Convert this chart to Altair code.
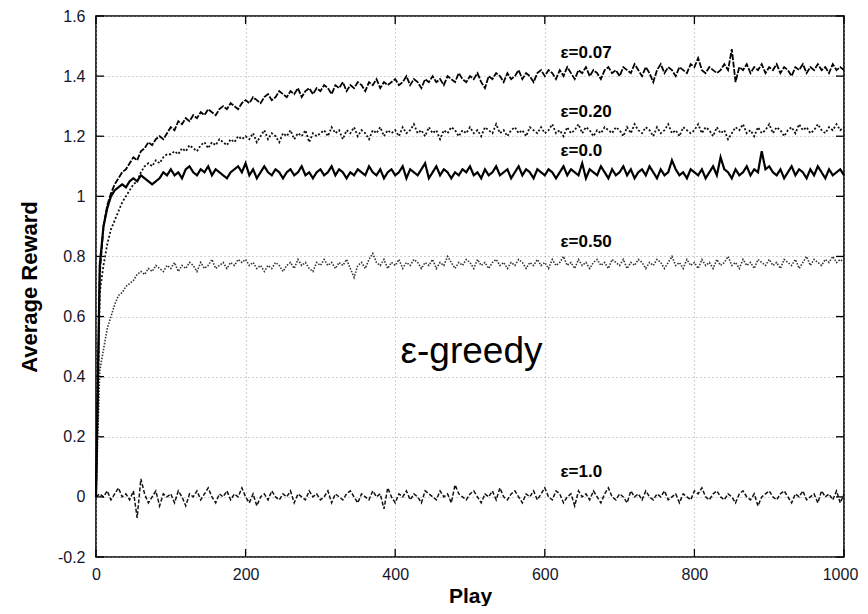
import altair as alt
import pandas as pd

# ---------------- data (every 5 plays) ----------------
plays = list(range(0, 1001, 5))

eps_000 = [
    0.00, 0.77, 0.90, 0.96, 1.00, 1.02, 1.03, 1.04, 1.03, 1.05, 1.06, 1.05, 1.07, 1.06, 1.05, 1.04, 1.05, 1.06, 1.08, 1.07,
    1.09, 1.07, 1.08, 1.06, 1.09, 1.10, 1.08, 1.07, 1.09, 1.08, 1.10, 1.07, 1.09, 1.08, 1.07, 1.06, 1.08, 1.09, 1.10, 1.08,
    1.11, 1.07, 1.09, 1.06, 1.08, 1.10, 1.08, 1.07, 1.09, 1.08, 1.06, 1.08, 1.09, 1.07, 1.08, 1.10, 1.07, 1.08, 1.06, 1.08,
    1.09, 1.07, 1.08, 1.10, 1.07, 1.09, 1.08, 1.06, 1.08, 1.07, 1.09, 1.08, 1.07, 1.10, 1.08, 1.07, 1.09, 1.06, 1.08, 1.09,
    1.07, 1.08, 1.10, 1.06, 1.09, 1.08, 1.07, 1.09, 1.11, 1.06, 1.08, 1.10, 1.07, 1.09, 1.08, 1.06, 1.08, 1.07, 1.09, 1.08,
    1.10, 1.07, 1.08, 1.06, 1.09, 1.07, 1.08, 1.10, 1.07, 1.08, 1.09, 1.06, 1.08, 1.10, 1.07, 1.09, 1.08, 1.06, 1.09, 1.08,
    1.07, 1.09, 1.08, 1.06, 1.08, 1.10, 1.07, 1.09, 1.08, 1.07, 1.11, 1.06, 1.09, 1.08, 1.07, 1.10, 1.08, 1.06, 1.09, 1.07,
    1.08, 1.10, 1.07, 1.09, 1.06, 1.08, 1.09, 1.07, 1.10, 1.08, 1.06, 1.09, 1.07, 1.08, 1.12, 1.09, 1.07, 1.08, 1.06, 1.09,
    1.08, 1.07, 1.09, 1.06, 1.08, 1.10, 1.07, 1.13, 1.09, 1.08, 1.06, 1.09, 1.07, 1.08, 1.10, 1.07, 1.09, 1.08, 1.15, 1.09,
    1.10, 1.08, 1.07, 1.09, 1.06, 1.08, 1.10, 1.07, 1.09, 1.08, 1.06, 1.09, 1.07, 1.10, 1.08, 1.06, 1.09, 1.07, 1.08, 1.09,
    1.07,
]

eps_007 = [
    0.00, 0.74, 0.90, 0.97, 1.01, 1.04, 1.06, 1.08, 1.09, 1.11, 1.13, 1.12, 1.15, 1.16, 1.18, 1.17, 1.19, 1.20, 1.19, 1.21,
    1.23, 1.22, 1.25, 1.24, 1.26, 1.25, 1.27, 1.26, 1.28, 1.27, 1.29, 1.28, 1.27, 1.29, 1.30, 1.29, 1.31, 1.30, 1.29, 1.31,
    1.32, 1.31, 1.33, 1.32, 1.31, 1.33, 1.34, 1.32, 1.33, 1.35, 1.34, 1.33, 1.35, 1.34, 1.36, 1.33, 1.35, 1.36, 1.34, 1.36,
    1.35, 1.37, 1.36, 1.34, 1.37, 1.36, 1.38, 1.35, 1.37, 1.36, 1.38, 1.37, 1.35, 1.38, 1.37, 1.39, 1.36, 1.38, 1.37, 1.38,
    1.39, 1.37, 1.38, 1.40, 1.37, 1.39, 1.38, 1.36, 1.39, 1.38, 1.40, 1.38, 1.39, 1.37, 1.40, 1.39, 1.38, 1.41, 1.39, 1.38,
    1.40, 1.39, 1.41, 1.38, 1.36, 1.40, 1.39, 1.41, 1.40, 1.38, 1.41, 1.39, 1.40, 1.42, 1.39, 1.41, 1.40, 1.38, 1.41, 1.42,
    1.40, 1.42, 1.41, 1.39, 1.42, 1.40, 1.43, 1.41, 1.39, 1.42, 1.41, 1.43, 1.40, 1.42, 1.41, 1.39, 1.42, 1.43, 1.41, 1.42,
    1.40, 1.43, 1.42, 1.41, 1.44, 1.42, 1.40, 1.43, 1.41, 1.38, 1.42, 1.44, 1.41, 1.43, 1.42, 1.40, 1.43, 1.42, 1.41, 1.44,
    1.43, 1.46, 1.42, 1.41, 1.43, 1.42, 1.41, 1.42, 1.44, 1.42, 1.49, 1.38, 1.43, 1.42, 1.44, 1.41, 1.43, 1.42, 1.44, 1.41,
    1.43, 1.42, 1.44, 1.41, 1.43, 1.42, 1.40, 1.43, 1.42, 1.44, 1.41, 1.43, 1.42, 1.44, 1.42, 1.43, 1.41, 1.44, 1.42, 1.43,
    1.42,
]

eps_020 = [
    0.00, 0.68, 0.77, 0.84, 0.89, 0.92, 0.95, 0.98, 1.00, 1.02, 1.04, 1.05, 1.08, 1.10, 1.11, 1.10, 1.12, 1.11, 1.13, 1.14,
    1.14, 1.15, 1.14, 1.16, 1.15, 1.17, 1.16, 1.15, 1.17, 1.18, 1.16, 1.18, 1.17, 1.19, 1.18, 1.17, 1.19, 1.18, 1.20, 1.19,
    1.20, 1.19, 1.21, 1.18, 1.20, 1.22, 1.19, 1.21, 1.20, 1.18, 1.21, 1.20, 1.22, 1.19, 1.21, 1.20, 1.22, 1.18, 1.21, 1.20,
    1.21, 1.22, 1.20, 1.23, 1.21, 1.22, 1.19, 1.22, 1.21, 1.23, 1.20, 1.22, 1.21, 1.19, 1.22, 1.21, 1.23, 1.20, 1.22, 1.21,
    1.22, 1.20, 1.23, 1.21, 1.22, 1.24, 1.21, 1.22, 1.20, 1.23, 1.21, 1.22, 1.19, 1.22, 1.21, 1.23, 1.22, 1.20, 1.22, 1.21,
    1.23, 1.21, 1.22, 1.20, 1.23, 1.22, 1.21, 1.24, 1.21, 1.22, 1.20, 1.22, 1.23, 1.21, 1.22, 1.20, 1.23, 1.22, 1.21, 1.23,
    1.21, 1.22, 1.24, 1.21, 1.22, 1.20, 1.23, 1.21, 1.22, 1.24, 1.21, 1.23, 1.22, 1.20, 1.22, 1.21, 1.23, 1.22, 1.21, 1.23,
    1.22, 1.20, 1.23, 1.21, 1.24, 1.22, 1.21, 1.23, 1.22, 1.20, 1.23, 1.21, 1.22, 1.24, 1.21, 1.22, 1.20, 1.23, 1.22, 1.21,
    1.22, 1.24, 1.21, 1.23, 1.22, 1.20, 1.23, 1.21, 1.22, 1.19, 1.21, 1.23, 1.22, 1.24, 1.21, 1.22, 1.20, 1.23, 1.21, 1.22,
    1.24, 1.21, 1.23, 1.22, 1.20, 1.22, 1.23, 1.21, 1.24, 1.22, 1.23, 1.21, 1.22, 1.24, 1.22, 1.21, 1.23, 1.22, 1.24, 1.22,
    1.23,
]

eps_050 = [
    0.00, 0.42, 0.49, 0.56, 0.60, 0.64, 0.67, 0.68, 0.70, 0.71, 0.72, 0.74, 0.75, 0.74, 0.76, 0.75, 0.77, 0.76, 0.75, 0.77,
    0.76, 0.78, 0.75, 0.77, 0.76, 0.78, 0.77, 0.75, 0.78, 0.76, 0.77, 0.79, 0.76, 0.77, 0.78, 0.76, 0.78, 0.77, 0.79, 0.78,
    0.79, 0.77, 0.78, 0.76, 0.77, 0.75, 0.77, 0.76, 0.78, 0.77, 0.75, 0.77, 0.78, 0.76, 0.79, 0.77, 0.78, 0.76, 0.75, 0.78,
    0.77, 0.79, 0.77, 0.78, 0.76, 0.78, 0.77, 0.79, 0.76, 0.73, 0.77, 0.78, 0.76, 0.79, 0.81, 0.78, 0.77, 0.79, 0.76, 0.78,
    0.77, 0.79, 0.76, 0.78, 0.77, 0.79, 0.78, 0.76, 0.78, 0.77, 0.79, 0.76, 0.78, 0.77, 0.80, 0.78, 0.76, 0.78, 0.77, 0.79,
    0.78, 0.76, 0.79, 0.77, 0.78, 0.76, 0.78, 0.79, 0.77, 0.78, 0.76, 0.78, 0.77, 0.79, 0.78, 0.76, 0.78, 0.77, 0.79, 0.77,
    0.78, 0.76, 0.79, 0.77, 0.78, 0.80, 0.77, 0.78, 0.76, 0.79, 0.77, 0.78, 0.76, 0.78, 0.79, 0.77, 0.78, 0.76, 0.79, 0.78,
    0.77, 0.79, 0.76, 0.78, 0.77, 0.79, 0.78, 0.76, 0.78, 0.77, 0.79, 0.78, 0.76, 0.78, 0.80, 0.77, 0.78, 0.76, 0.79, 0.77,
    0.78, 0.76, 0.79, 0.77, 0.78, 0.76, 0.79, 0.77, 0.78, 0.80, 0.77, 0.78, 0.76, 0.79, 0.77, 0.78, 0.76, 0.79, 0.78, 0.77,
    0.79, 0.77, 0.78, 0.76, 0.79, 0.78, 0.77, 0.79, 0.76, 0.78, 0.80, 0.77, 0.79, 0.78, 0.77, 0.79, 0.78, 0.80, 0.78, 0.79,
    0.78,
]

eps_100 = [
    0.00, 0.01, 0.00, 0.02, -0.01, 0.01, 0.03, 0.00, 0.01, -0.01, 0.02, -0.07, 0.06, 0.01, -0.02, 0.00, 0.02, -0.03, 0.01, 0.00,
    0.01, -0.02, 0.02, 0.00, -0.03, 0.01, 0.00, 0.02, -0.01, 0.01, 0.03, 0.00, -0.02, 0.01, 0.00, 0.02, -0.01, 0.01, 0.00, 0.03,
    0.00, -0.02, 0.01, -0.03, 0.00, 0.01, -0.01, 0.02, 0.00, -0.01, 0.01, 0.00, 0.02, -0.02, 0.01, 0.00, -0.01, 0.02, 0.00, 0.01,
    -0.01, 0.00, 0.02, -0.02, 0.01, 0.00, -0.01, 0.01, 0.02, 0.00, -0.02, 0.01, 0.00, -0.01, 0.02, 0.00, 0.01, -0.04, 0.03, 0.00,
    -0.02, 0.01, 0.00, 0.02, -0.01, 0.01, 0.00, -0.02, 0.02, 0.01, 0.00, -0.01, 0.02, 0.00, 0.01, -0.02, 0.04, 0.01, 0.00, -0.01,
    0.01, 0.02, 0.00, -0.02, 0.01, 0.00, 0.02, -0.01, 0.03, 0.00, -0.01, 0.01, 0.02, 0.00, -0.02, 0.01, 0.00, 0.02, -0.01, 0.01,
    0.03, 0.00, -0.01, 0.02, 0.01, -0.02, 0.00, 0.01, -0.03, 0.02, 0.00, 0.01, -0.01, 0.02, 0.00, -0.02, 0.01, 0.03, 0.00, -0.01,
    0.01, 0.00, -0.02, 0.02, 0.00, 0.01, -0.01, 0.02, 0.00, -0.01, 0.01, 0.00, 0.02, -0.01, 0.00, 0.01, -0.02, 0.01, 0.00, -0.01,
    0.02, 0.01, 0.03, 0.00, -0.01, 0.01, 0.02, 0.00, -0.01, 0.01, 0.00, -0.02, 0.01, 0.02, 0.00, -0.01, 0.01, -0.03, 0.00, 0.01,
    0.02, 0.00, -0.01, 0.01, 0.02, 0.00, -0.02, 0.01, 0.00, 0.02, -0.01, 0.00, 0.01, -0.02, 0.02, 0.00, 0.01, -0.01, 0.02, -0.02,
    0.01,
]

x_ticks = [0, 200, 400, 600, 800, 1000]
y_ticks = [-0.2, 0.0, 0.2, 0.4, 0.6, 0.8, 1.0, 1.2, 1.4, 1.6]

series_labels = ["ε=0.07", "ε=0.20", "ε=0.0", "ε=0.50", "ε=1.0"]
label_play = [621, 621, 621, 621, 621]
label_reward = [1.46, 1.263, 1.133, 0.833, 0.067]

# ---------------- chart ----------------
W, H = 748, 541
FONT = "Liberation Sans"

x_scale = alt.Scale(domain=[0, 1000], nice=False, zero=False)
y_scale = alt.Scale(domain=[-0.2, 1.6], nice=False, zero=False)

x_axis = alt.Axis(values=x_ticks, title="Play", format="d", grid=True, gridDash=[1, 3],
                  gridColor="#9a9a9a", gridWidth=0.9, ticks=False, domain=False, labelPadding=9,
                  labelFontSize=16, labelFont=FONT, labelColor="#15152a", titleFont=FONT,
                  titleFontSize=21, titleFontWeight="bold", titleColor="#000", titlePadding=3,
                  labelFlush=False,
                  labelOffset={"condition": {"test": "datum.value == 1000", "value": -4}, "value": 0})
y_axis = alt.Axis(values=y_ticks, title="Average Reward", grid=True, gridDash=[1, 3],
                  gridColor="#9a9a9a", gridWidth=0.9, ticks=False, domain=False, labelPadding=11,
                  labelFontSize=16, labelFont=FONT, labelColor="#15152a", titleFont=FONT,
                  titleFontSize=22, titleFontWeight="bold", titleColor="#000", titlePadding=16,
                  labelFlush=False,
                  labelExpr="replace(format(datum.value, '.1~f'), '\u2212', '-')")


def series_df(values):
    return pd.DataFrame({"play": plays, "reward": values})


def line_layer(values, dash, width, color):
    return alt.Chart(series_df(values)).mark_line(
        strokeDash=dash, strokeWidth=width, color=color, interpolate="linear"
    ).encode(
        x=alt.X("play:Q", scale=x_scale, axis=x_axis),
        y=alt.Y("reward:Q", scale=y_scale, axis=y_axis),
    )


l_100 = line_layer(eps_100, [4, 2], 1.5, "#111")
l_050 = line_layer(eps_050, [1.5, 1.5], 1.6, "#333")
l_020 = line_layer(eps_020, [2, 2], 1.8, "#111")
l_007 = line_layer(eps_007, [6, 1.5], 1.8, "#000")
l_000 = line_layer(eps_000, [1, 0], 2.2, "#000")

# inward ticks on all four sides (gnuplot style)
ytick_df = pd.DataFrame({"play": [0] * len(y_ticks), "reward": y_ticks})
xtick_df = pd.DataFrame({"play": x_ticks, "reward": [0.0] * len(x_ticks)})
tick_style = dict(color="#000", strokeWidth=1.3)
left_ticks = alt.Chart(ytick_df).mark_rule(**tick_style).encode(
    y=alt.Y("reward:Q", scale=y_scale, axis=y_axis), x=alt.value(0), x2=alt.value(8))
right_ticks = alt.Chart(ytick_df).mark_rule(**tick_style).encode(
    y=alt.Y("reward:Q", scale=y_scale, axis=y_axis), x=alt.value(W - 8), x2=alt.value(W))
bottom_ticks = alt.Chart(xtick_df).mark_rule(**tick_style).encode(
    x=alt.X("play:Q", scale=x_scale, axis=x_axis), y=alt.value(H), y2=alt.value(H - 8))
top_ticks = alt.Chart(xtick_df).mark_rule(**tick_style).encode(
    x=alt.X("play:Q", scale=x_scale, axis=x_axis), y=alt.value(0), y2=alt.value(8))

lab_df = pd.DataFrame({"label": series_labels, "play": label_play, "reward": label_reward})
labels = alt.Chart(lab_df).mark_text(
    font=FONT, fontSize=17, fontWeight="bold", align="left", baseline="alphabetic", color="#000"
).encode(
    x=alt.X("play:Q", scale=x_scale, axis=x_axis),
    y=alt.Y("reward:Q", scale=y_scale, axis=y_axis),
    text="label:N",
)

title_df = pd.DataFrame({"t": ["ε-greedy"], "play": [502], "reward": [0.447]})
big_text = alt.Chart(title_df).mark_text(
    font=FONT, fontSize=37, align="center", baseline="alphabetic", color="#000"
).encode(
    x=alt.X("play:Q", scale=x_scale, axis=x_axis),
    y=alt.Y("reward:Q", scale=y_scale, axis=y_axis),
    text="t:N",
)

chart = alt.layer(
    l_100, l_050, l_020, l_007, l_000,
    left_ticks, right_ticks, bottom_ticks, top_ticks,
    labels, big_text,
).properties(
    width=W, height=H,
    autosize=alt.AutoSizeParams(type="none"),
    padding={"left": 88, "top": 8, "right": 14, "bottom": 49},
    background="white",
).configure_view(
    stroke="#000", strokeWidth=1.6
)

chart.save("out.html", embed_options={"renderer": "svg", "actions": False})
